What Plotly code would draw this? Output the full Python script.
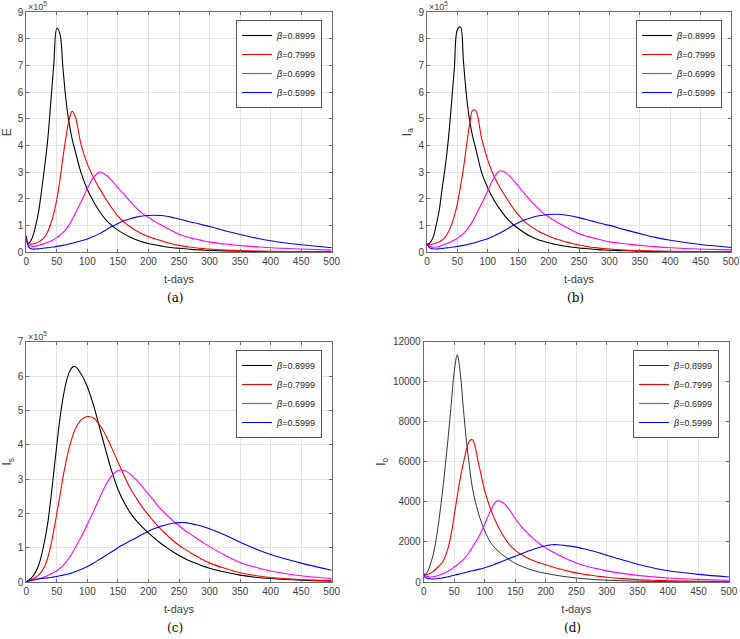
import plotly.graph_objects as go

# ---------------- data ----------------
T_DAYS = [0, 2, 5, 10, 15, 20, 25, 30, 35, 40, 45, 50, 55, 60, 65, 70, 75, 80,
          90, 100, 110, 120, 130, 140, 150, 160, 170, 180, 190, 200,
          210, 220, 230, 240, 250, 260, 270, 280, 290, 300,
          325, 350, 375, 400, 450, 500]

BETA_NAMES = ["<i>β</i>=0.8999", "<i>β</i>=0.7999", "<i>β</i>=0.6999", "<i>β</i>=0.5999"]
LINE_COLORS = ["#000000", "#ff0000", "#ff00ff", "#0000ff"]

# (a) E  (x 10^5)
E_B08999 = [0.6, 0.35, 0.35, 0.55, 0.95, 1.5, 2.3, 3.2, 4.2, 5.6, 7.05, 8.4, 8.2, 6.9, 5.7, 4.85, 4.25, 3.8,
            2.95, 2.35, 1.9, 1.52, 1.22, 1.0, 0.82, 0.68, 0.56, 0.46, 0.38, 0.32,
            0.27, 0.23, 0.19, 0.16, 0.14, 0.12, 0.1, 0.085, 0.072, 0.06,
            0.042, 0.03, 0.021, 0.015, 0.008, 0.005]
E_B07999 = [0.6, 0.33, 0.3, 0.3, 0.33, 0.38, 0.45, 0.56, 0.76, 1.05, 1.45, 1.98, 2.7, 3.55, 4.32, 4.95, 5.28, 5.1,
            4.0, 3.3, 2.8, 2.38, 2.0, 1.65, 1.35, 1.12, 0.95, 0.8, 0.68, 0.58,
            0.5, 0.43, 0.36, 0.3, 0.25, 0.21, 0.18, 0.15, 0.13, 0.11,
            0.075, 0.05, 0.035, 0.025, 0.012, 0.006]
E_B06999 = [0.6, 0.33, 0.25, 0.21, 0.22, 0.25, 0.28, 0.32, 0.36, 0.41, 0.47, 0.55, 0.63, 0.73, 0.86, 1.02, 1.22, 1.44,
            1.9, 2.38, 2.8, 3.0, 2.9, 2.68, 2.42, 2.16, 1.9, 1.66, 1.45, 1.3,
            1.15, 1.02, 0.9, 0.78, 0.67, 0.59, 0.52, 0.47, 0.42, 0.37,
            0.3, 0.24, 0.2, 0.16, 0.11, 0.07]
E_B05999 = [0.6, 0.3, 0.16, 0.11, 0.11, 0.12, 0.13, 0.15, 0.16, 0.18, 0.19, 0.21, 0.23, 0.25, 0.27, 0.3, 0.33, 0.36,
            0.42, 0.49, 0.58, 0.69, 0.82, 0.96, 1.07, 1.17, 1.25, 1.31, 1.35, 1.37,
            1.38, 1.37, 1.34, 1.29, 1.24, 1.18, 1.12, 1.07, 1.01, 0.96,
            0.8, 0.66, 0.53, 0.42, 0.27, 0.16]

# (b) I_a  (x 10^5)
IA_B08999 = [0.3, 0.3, 0.35, 0.55, 1.0, 1.55, 2.4, 3.2, 4.2, 5.5, 6.9, 8.35, 8.45, 7.15, 5.85, 4.95, 4.35, 3.9,
             2.98, 2.4, 1.95, 1.6, 1.3, 1.07, 0.88, 0.72, 0.59, 0.49, 0.41, 0.35,
             0.29, 0.25, 0.21, 0.18, 0.15, 0.13, 0.11, 0.09, 0.077, 0.065,
             0.045, 0.03, 0.021, 0.015, 0.008, 0.005]
IA_B07999 = [0.3, 0.28, 0.28, 0.3, 0.33, 0.38, 0.45, 0.56, 0.75, 1.0, 1.36, 1.82, 2.45, 3.15, 4.0, 4.78, 5.32, 5.32,
             4.25, 3.45, 2.85, 2.42, 2.05, 1.7, 1.4, 1.15, 0.97, 0.83, 0.7, 0.6,
             0.51, 0.44, 0.37, 0.31, 0.26, 0.22, 0.18, 0.155, 0.13, 0.11,
             0.075, 0.05, 0.035, 0.025, 0.012, 0.006]
IA_B06999 = [0.3, 0.27, 0.22, 0.18, 0.19, 0.21, 0.25, 0.29, 0.34, 0.39, 0.45, 0.52, 0.6, 0.7, 0.82, 0.97, 1.15, 1.37,
             1.82, 2.3, 2.78, 3.05, 2.97, 2.75, 2.48, 2.2, 1.94, 1.7, 1.48, 1.32,
             1.17, 1.04, 0.92, 0.8, 0.69, 0.61, 0.55, 0.49, 0.43, 0.38,
             0.31, 0.25, 0.2, 0.16, 0.11, 0.08]
IA_B05999 = [0.3, 0.22, 0.15, 0.12, 0.11, 0.12, 0.13, 0.15, 0.16, 0.18, 0.19, 0.21, 0.23, 0.25, 0.27, 0.3, 0.33, 0.36,
             0.43, 0.5, 0.6, 0.71, 0.84, 0.98, 1.1, 1.2, 1.28, 1.34, 1.38, 1.41,
             1.42, 1.41, 1.38, 1.34, 1.29, 1.23, 1.17, 1.11, 1.05, 1.0,
             0.84, 0.69, 0.55, 0.44, 0.28, 0.17]

# (c) I_s  (x 10^5)
IS_B08999 = [0.01, 0.03, 0.07, 0.15, 0.28, 0.48, 0.78, 1.2, 1.7, 2.4, 3.2, 4.0, 4.75, 5.35, 5.8, 6.1, 6.25, 6.28,
             6.05, 5.68, 5.15, 4.5, 3.84, 3.22, 2.7, 2.32, 2.02, 1.79, 1.6, 1.43,
             1.27, 1.13, 1.0, 0.88, 0.77, 0.68, 0.6, 0.53, 0.46, 0.4,
             0.29, 0.2, 0.14, 0.1, 0.05, 0.025]
IS_B07999 = [0.01, 0.02, 0.04, 0.08, 0.13, 0.2, 0.3, 0.45, 0.7, 1.05, 1.5, 2.0, 2.5, 3.05, 3.5, 3.9, 4.2, 4.45,
             4.72, 4.82, 4.78, 4.58, 4.28, 3.9, 3.5, 3.1, 2.74, 2.45, 2.18, 1.95,
             1.74, 1.54, 1.37, 1.21, 1.07, 0.95, 0.84, 0.74, 0.64, 0.55,
             0.4, 0.27, 0.19, 0.13, 0.07, 0.04]
IS_B06999 = [0.01, 0.02, 0.03, 0.05, 0.07, 0.09, 0.12, 0.15, 0.19, 0.23, 0.28, 0.33, 0.4, 0.48, 0.58, 0.7, 0.84, 1.0,
             1.32, 1.68, 2.05, 2.45, 2.82, 3.1, 3.25, 3.25, 3.15, 2.98, 2.78, 2.56,
             2.34, 2.13, 1.95, 1.79, 1.64, 1.5, 1.38, 1.26, 1.14, 1.03,
             0.78, 0.57, 0.43, 0.32, 0.18, 0.1]
IS_B05999 = [0.01, 0.02, 0.04, 0.06, 0.08, 0.09, 0.1, 0.11, 0.12, 0.13, 0.15, 0.16, 0.18, 0.2, 0.22, 0.24, 0.27, 0.3,
             0.37, 0.45, 0.55, 0.66, 0.77, 0.88, 1.0, 1.1, 1.2, 1.29, 1.39, 1.48,
             1.56, 1.62, 1.67, 1.71, 1.73, 1.73, 1.7, 1.66, 1.61, 1.55,
             1.37, 1.16, 0.97, 0.8, 0.55, 0.34]

# (d) I_o
IO_B08999 = [400, 380, 450, 800, 1300, 2050, 3100, 4300, 5700, 7200, 8850, 10500, 11350, 10400, 8650, 7050, 5750, 4650,
             3400, 2550, 1950, 1600, 1340, 1120, 930, 790, 670, 570, 490, 430,
             370, 320, 275, 235, 200, 170, 145, 122, 103, 88,
             60, 40, 28, 20, 10, 5]
IO_B07999 = [400, 370, 360, 420, 520, 650, 800, 960, 1250, 1700, 2400, 3300, 4300, 5200, 5950, 6600, 7050, 7100,
             5900, 4550, 3600, 2880, 2320, 1880, 1580, 1370, 1200, 1060, 950, 860,
             760, 670, 590, 520, 455, 400, 355, 310, 270, 235,
             170, 120, 88, 65, 35, 20]
IO_B06999 = [400, 330, 280, 250, 260, 290, 340, 400, 460, 540, 640, 750, 860, 980, 1120, 1300, 1510, 1750,
             2250, 2900, 3580, 4040, 3960, 3620, 3170, 2760, 2450, 2150, 1900, 1700,
             1520, 1360, 1210, 1070, 950, 850, 765, 690, 620, 555,
             430, 330, 260, 200, 130, 90]
IO_B05999 = [400, 260, 190, 160, 150, 160, 180, 200, 230, 260, 300, 340, 380, 410, 450, 490, 530, 560,
             630, 710, 810, 930, 1050, 1170, 1290, 1410, 1530, 1640, 1740, 1810,
             1860, 1860, 1830, 1790, 1740, 1670, 1600, 1520, 1430, 1340,
             1110, 890, 710, 560, 380, 250]

X_TICKS = list(range(0, 501, 50))
Y_TICKS_A = list(range(0, 10))
Y_TICKS_C = list(range(0, 8))
Y_TICKS_D = list(range(0, 12001, 2000))

# ---------------- figure ----------------
W, H = 740, 639


def px_x(p):
    return p / W


def px_y(p):
    return 1 - p / H


panels = [
    dict(series=[E_B08999, E_B07999, E_B06999, E_B05999], ax="", leg="legend",
         xd=(26.3, 331.7), yd=(12.3, 252), yt=Y_TICKS_A, yr=(0, 9), ytitle="E",
         expo=True, cap="(a)", legpos=(322, 20), widths=[1.1, 1.1, 1.1, 1.1]),
    dict(series=[IA_B08999, IA_B07999, IA_B06999, IA_B05999], ax="2", leg="legend2",
         xd=(427, 731), yd=(12.3, 252), yt=Y_TICKS_A, yr=(0, 9), ytitle="I<sub>a</sub>",
         expo=True, cap="(b)", legpos=(722, 20), widths=[1.1, 1.1, 1.1, 1.1]),
    dict(series=[IS_B08999, IS_B07999, IS_B06999, IS_B05999], ax="3", leg="legend3",
         xd=(26.3, 331.7), yd=(341.7, 582), yt=Y_TICKS_C, yr=(0, 7), ytitle="I<sub>s</sub>",
         expo=True, cap="(c)", legpos=(322, 350), widths=[1.1, 1.1, 1.1, 1.1]),
    dict(series=[IO_B08999, IO_B07999, IO_B06999, IO_B05999], ax="4", leg="legend4",
         xd=(423.7, 729), yd=(341.7, 582), yt=Y_TICKS_D, yr=(0, 12000), ytitle="I<sub>o</sub>",
         expo=False, cap="(d)", legpos=(719, 350), widths=[0.8, 1.1, 1.1, 1.1]),
]

AXIS_COLOR = "#6b6b6b"
GRID_COLOR = "#e3e3e3"
TICK_FONT = dict(family="Liberation Sans, Arial, sans-serif", size=10, color="#404040")
SERIF = "DejaVu Serif, Liberation Serif, serif"

fig = go.Figure()
layout = dict(
    width=W, height=H, margin=dict(l=0, r=0, t=0, b=0),
    paper_bgcolor="white", plot_bgcolor="white", showlegend=True,
    font=dict(family="Liberation Sans, Arial, sans-serif", color="#262626"),
)
annotations = []

for p in panels:
    xa = "x" + p["ax"]
    ya = "y" + p["ax"]
    for vals, name, col, w in zip(p["series"], BETA_NAMES, LINE_COLORS, p["widths"]):
        fig.add_trace(go.Scatter(
            x=T_DAYS, y=vals, mode="lines", name=name,
            line=dict(color=col, width=w, shape="spline", smoothing=1.0),
            xaxis=xa, yaxis=ya, legend=p["leg"],
        ))
    xkey = "xaxis" + p["ax"]
    ykey = "yaxis" + p["ax"]
    layout[xkey] = dict(
        domain=[px_x(p["xd"][0]), px_x(p["xd"][1])], anchor=ya,
        range=[0, 500], tickvals=X_TICKS, ticks="inside", ticklen=3,
        tickcolor=AXIS_COLOR, showline=True, linecolor=AXIS_COLOR, linewidth=1,
        mirror="ticks", showgrid=True, gridcolor=GRID_COLOR, zeroline=False,
        tickfont=TICK_FONT, automargin=False,
        title=dict(text="t-days", font=dict(size=11, color="#404040"), standoff=9),
    )
    layout[ykey] = dict(
        domain=[px_y(p["yd"][1]), px_y(p["yd"][0])], anchor=xa,
        range=list(p["yr"]), tickvals=p["yt"], tickformat="d", ticks="inside", ticklen=3,
        tickcolor=AXIS_COLOR, showline=True, linecolor=AXIS_COLOR, linewidth=1,
        mirror="ticks", showgrid=True, gridcolor=GRID_COLOR, zeroline=False,
        tickfont=TICK_FONT, automargin=False,
        title=dict(text=p["ytitle"], font=dict(size=12, color="#404040"), standoff=4),
    )
    layout[p["leg"]] = dict(
        x=px_x(p["legpos"][0]), y=px_y(p["legpos"][1]), xanchor="right", yanchor="top",
        xref="paper", yref="paper", bgcolor="white", bordercolor="#555555", borderwidth=1,
        font=dict(size=9, color="#262626"), tracegroupgap=0, itemwidth=30,
    )
    if p["expo"]:
        annotations.append(dict(
            text="×10<sup>5</sup>", xref=xa + " domain", yref=ya + " domain",
            x=0.0, y=1.0, xanchor="left", yanchor="bottom", showarrow=False,
            font=dict(size=9, color="#404040"), yshift=-2,
        ))
    annotations.append(dict(
        text=p["cap"], xref="paper", yref="paper",
        x=px_x((p["xd"][0] + p["xd"][1]) / 2 - 4), y=px_y(p["yd"][1] + 46),
        xanchor="center", yanchor="middle", showarrow=False,
        font=dict(family=SERIF, size=12, color="#000000"),
    ))

layout["annotations"] = annotations
fig.update_layout(**layout)
fig.write_html(
    "out.html",
    config={"displayModeBar": False},
    post_script="document.body.style.margin='0';document.body.style.padding='0';"
                "document.body.style.overflow='hidden';",
)
